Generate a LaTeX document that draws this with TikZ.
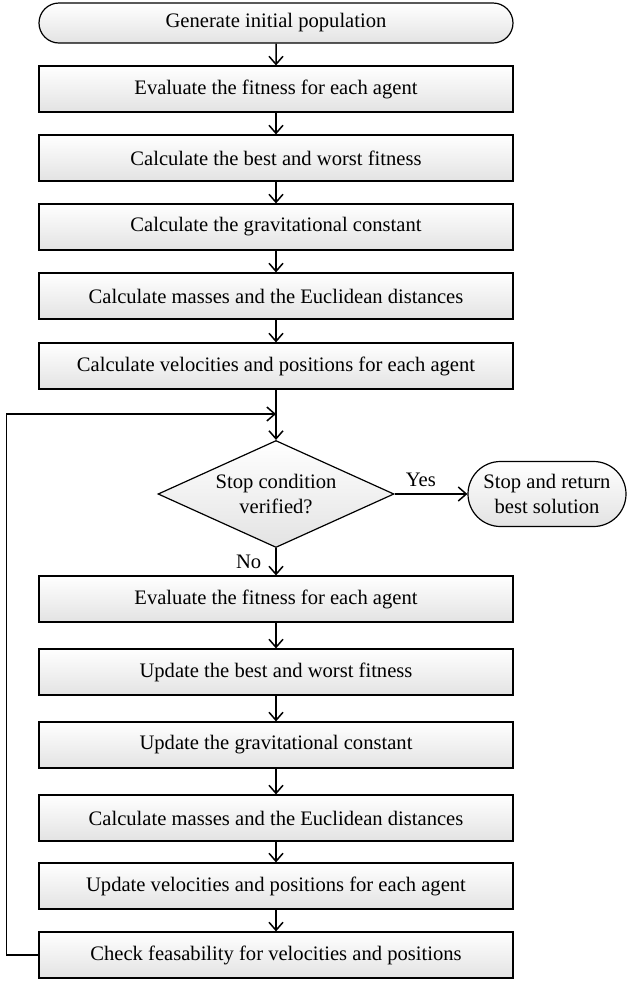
\documentclass[tikz,border=0pt]{standalone}
\usepackage{fontspec}
\setmainfont{Liberation Serif}
\usetikzlibrary{arrows.meta, shapes.geometric, shapes.misc, calc}

\begin{document}
\begin{tikzpicture}[
    x=0.5pt, y=-0.5pt,
    font=\fontsize{10.3}{12.5}\selectfont,
    process/.style={draw, line width=0.6pt, top color=white, bottom color=gray!22,
                    minimum width=237pt, minimum height=23pt, inner sep=0pt,
                    align=center},
    terminal/.style={draw, line width=0.6pt, rounded rectangle, top color=white,
                     bottom color=gray!22, minimum height=20pt, inner sep=0pt,
                     align=center},
    decision/.style={draw, line width=0.6pt, diamond, aspect=2.2, top color=white,
                     bottom color=gray!22, minimum width=118pt, minimum height=53.5pt,
                     inner sep=0pt, align=center},
    flow/.style={line width=0.75pt, -{Straight Barb[length=4pt, width=7pt]}}
  ]
    \useasboundingbox (0,0) rectangle (628,981);

    % initialisation
    \node[terminal, minimum width=237pt] (init) at (276,23) {Generate initial population};
    \node[process] (eval1) at (276,89) {Evaluate the fitness for each agent};
    \node[process] (best1) at (276,158) {Calculate the best and worst fitness};
    \node[process] (grav1) at (276,227) {Calculate the gravitational constant};
    \node[process] (mass1) at (276,296) {Calculate masses and the Euclidean distances};
    \node[process] (vel1) at (276,366) {Calculate velocities and positions for each agent};

    % test
    \coordinate (merge) at (276,414);
    \node[decision] (stopq) at (276,494) {Stop condition\\verified?};
    \node[terminal, minimum width=79pt, minimum height=32.5pt] (stop) at (547,494)
      {Stop and return\\best solution};

    % main loop
    \node[process] (eval2) at (276,599) {Evaluate the fitness for each agent};
    \node[process] (best2) at (276,672) {Update the best and worst fitness};
    \node[process] (grav2) at (276,745) {Update the gravitational constant};
    \node[process] (mass2) at (276,818) {Calculate masses and the Euclidean distances};
    \node[process] (vel2) at (276,886) {Update velocities and positions for each agent};
    \node[process] (check) at (276,955) {Check feasability for velocities and positions};

    \foreach \a/\b in {init/eval1, eval1/best1, best1/grav1, grav1/mass1, mass1/vel1,
                       eval2/best2, best2/grav2, grav2/mass2, mass2/vel2, vel2/check} {
      \draw[flow] (\a) -- (\b);
    }
    \draw[flow] (vel1) -- (stopq);
    \draw[flow] (stopq.east) -- node[above, pos=0.36] {Yes} (stop.west);
    \draw[flow] (stopq.south) -- node[left, inner sep=7pt] {No} (eval2.north);
    \draw[flow] (check.west) -- ++(-32,0) |- (merge);
  \end{tikzpicture}
\end{document}
